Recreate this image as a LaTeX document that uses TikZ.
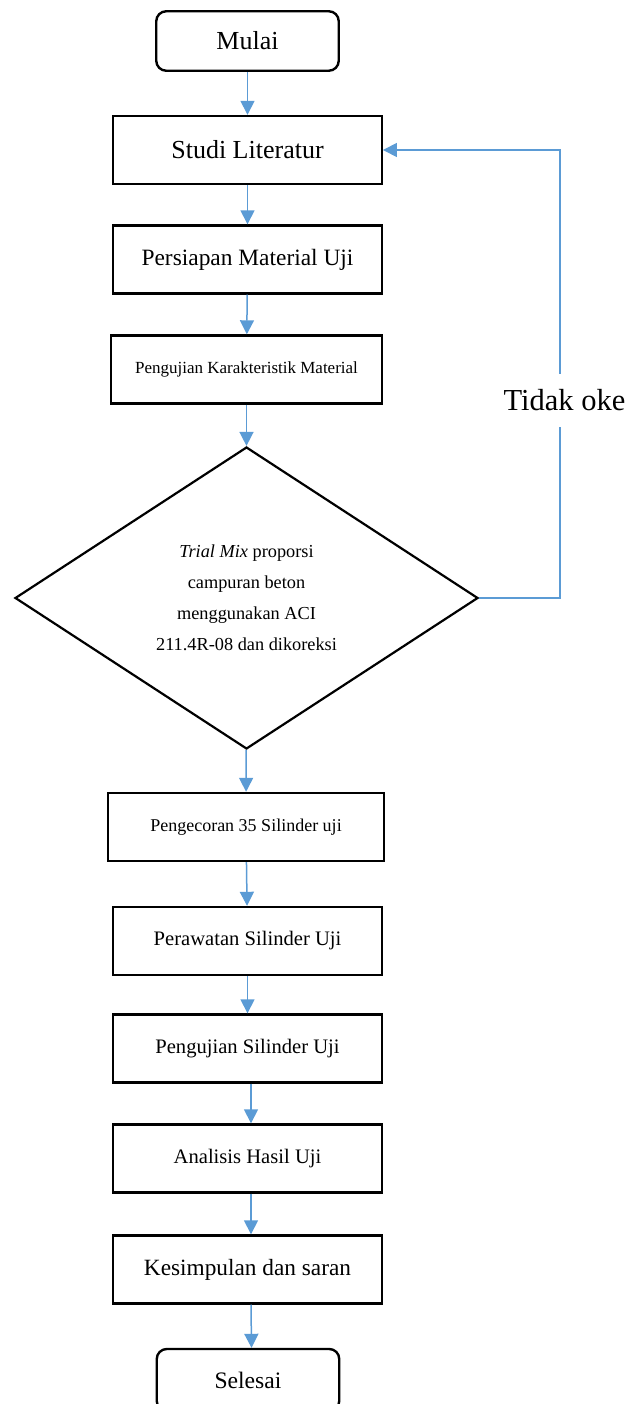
\documentclass[tikz,border=0pt]{standalone}
\usepackage{fontspec}
\setmainfont{Liberation Serif}
\usetikzlibrary{shapes.geometric,arrows.meta}
\definecolor{flowblue}{RGB}{91,155,213}
\begin{document}
\begin{tikzpicture}[x=1pt,y=-1pt,
  box/.style={draw=black,line width=2.4pt,rectangle,inner sep=0pt,minimum width=268.5pt,minimum height=68pt,align=center},
  term/.style={box,rounded corners=10pt,minimum width=182.5pt,minimum height=59.5pt},
  decision/.style={draw=black,line width=2.2pt,diamond,inner sep=0pt,minimum width=463pt,minimum height=302pt,align=center},
  flowline/.style={draw=flowblue,line width=1.5pt},
  flow/.style={flowline,-{Triangle[width=14pt,length=14pt]}},
  lbl/.style={inner sep=0pt}
]
\useasboundingbox (0,0) rectangle (630,1404);
\clip (0,0) rectangle (630,1404);

\node[term,font=\fontsize{26}{30}\selectfont] (mulai) at (247.5,41) {Mulai};
\node[box,font=\fontsize{26}{30}\selectfont] (studi) at (247.5,150) {Studi Literatur};
\node[box,font=\fontsize{23.4}{28}\selectfont] (persiapan) at (247.5,259.5) {Persiapan Material Uji};
\node[box,minimum width=270.5pt,font=\fontsize{17}{20}\selectfont] (karakter) at (246.5,369.5) {Pengujian Karakteristik Material};
\node[decision,font=\fontsize{18.3}{31}\selectfont] (trial) at (246.5,598) {\textit{Trial Mix} proporsi\\campuran beton\\menggunakan ACI\\211.4R-08 dan dikoreksi};
\node[box,minimum width=275.5pt,font=\fontsize{18}{22}\selectfont] (cor) at (246,827) {Pengecoran 35 Silinder uji};
\node[box,font=\fontsize{20.6}{25}\selectfont] (rawat) at (247.5,941) {Perawatan Silinder Uji};
\node[box,font=\fontsize{20.6}{25}\selectfont] (uji) at (247.5,1048.5) {Pengujian Silinder Uji};
\node[box,font=\fontsize{20.6}{25}\selectfont] (analisis) at (247.5,1158.5) {Analisis Hasil Uji};
\node[box,font=\fontsize{23.3}{28}\selectfont] (simpul) at (247.5,1269.5) {Kesimpulan dan saran};
\node[term,minimum height=62pt,font=\fontsize{23.6}{28}\selectfont] (selesai) at (248,1380) {Selesai};

\node[lbl,minimum height=53pt,font=\fontsize{30.5}{36}\selectfont] (tidak) at (564.5,400.5) {Tidak oke};

\draw[flow] (mulai) -- (studi);
\draw[flow] (studi) -- (persiapan);
\draw[flow] (persiapan) -- (karakter);
\draw[flow] (karakter) -- (trial);
\draw[flow] (trial) -- (cor);
\draw[flow] (cor) -- (rawat);
\draw[flow] (rawat) -- (uji);
\draw[flow] ([xshift=3.5pt]uji.south) -- ([xshift=3.5pt]analisis.north);
\draw[flow] ([xshift=3.5pt]analisis.south) -- ([xshift=3.5pt]simpul.north);
\draw[flow] ([xshift=3.5pt]simpul.south) -- ([xshift=3.5pt]selesai.north);

\coordinate (cornerTop) at (560,150);
\coordinate (cornerBot) at (560,598);
\draw[flowline] (trial.east) -- (cornerBot) -- (tidak.south -| cornerBot);
\draw[flow] (tidak.north -| cornerTop) -- (cornerTop) -- (studi.east);
\end{tikzpicture}
\end{document}
